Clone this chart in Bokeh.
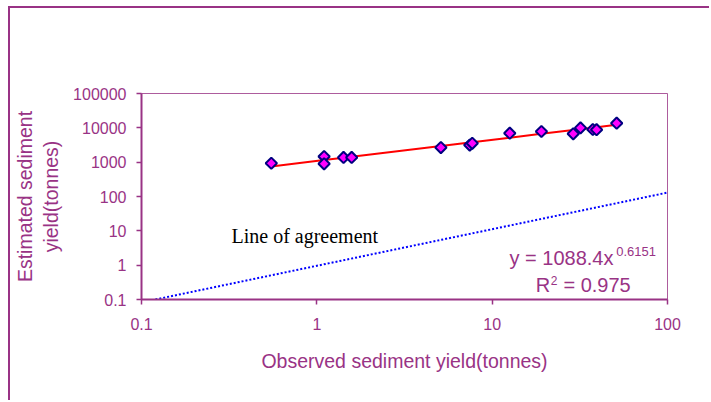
import math
from bokeh.plotting import figure
from bokeh.models import FixedTicker, CustomJSTickFormatter, Label, ColumnDataSource
from bokeh.embed import file_html
from bokeh.resources import INLINE

# ---- data ----
observed = [0.55, 1.1, 1.1, 1.42, 1.58, 5.1, 7.45, 7.7, 12.6, 19.1, 29.0, 31.9, 37.5, 39.4, 51.3]
estimated = [930, 1460, 895, 1370, 1370, 2670, 3150, 3550, 6980, 7820, 6700, 10000, 8940, 8830, 13650]

trend_coef = 1088.4
trend_exp = 0.6151
r_squared = 0.975

agree_x = [0.12, 100]
agree_y = [0.1, 130]

x_ticks = [0.1, 1, 10, 100]
y_ticks = [0.1, 1, 10, 100, 1000, 10000, 100000]

PURPLE = "#993385"
FONT = "Liberation Sans"

p = figure(width=701, height=394, x_axis_type="log", y_axis_type="log",
           x_range=(0.1, 100), y_range=(0.1, 100000),
           output_backend="svg", toolbar_location=None,
           min_border_left=131, min_border_top=85, min_border_right=44, min_border_bottom=103)
p.styles = {"margin-left": "8px", "margin-top": "6px",
            "border-top": "2px solid " + PURPLE, "border-left": "2px solid " + PURPLE}

p.xgrid.visible = False
p.ygrid.visible = False
p.outline_line_color = PURPLE
p.outline_line_width = 1
p.outline_line_alpha = 0.8
p.background_fill_color = "white"
p.border_fill_color = "white"

fmt = CustomJSTickFormatter(code="return tick.toString();")
for ax, ticks in ((p.xaxis, x_ticks), (p.yaxis, y_ticks)):
    ax.ticker = FixedTicker(ticks=ticks, minor_ticks=[])
    ax.formatter = fmt
    ax.axis_line_color = PURPLE
    ax.axis_line_width = 2
    ax.major_tick_line_color = PURPLE
    ax.major_tick_line_width = 1.5
    ax.major_tick_out = 5
    ax.major_tick_in = 0
    ax.minor_tick_line_color = None
    ax.major_label_text_color = PURPLE
    ax.major_label_text_font = FONT
    ax.major_label_text_font_size = "16px"
    ax.axis_label_text_color = PURPLE
    ax.axis_label_text_font = FONT
    ax.axis_label_text_font_size = "19.5px"
    ax.axis_label_text_font_style = "normal"

p.xaxis.major_label_standoff = 13
p.xaxis.axis_label = "Observed sediment yield(tonnes)"
p.xaxis.axis_label_standoff = 17
p.yaxis.major_label_standoff = 10
p.yaxis.axis_label = "Estimated sediment\nyield(tonnes)"
p.yaxis.axis_label_standoff = 8

# line of agreement
p.line(agree_x, agree_y, line_color="#0000FF", line_width=2, line_dash="2 2")

# power trendline evaluated from the displayed equation
xs = sorted(observed)
trend_y = [trend_coef * v ** trend_exp for v in xs]
p.line(xs, trend_y, line_color="#FF0000", line_width=2)

src = ColumnDataSource(dict(x=observed, y=estimated))
p.scatter("x", "y", source=src, marker="square", angle=math.pi / 4, size=8,
          fill_color="#FF00FF", line_color="#000080", line_width=2)

p.add_layout(Label(x=0.326, y=6.84, text="Line of agreement", text_font="Liberation Serif",
                   text_font_size="20px", text_color="black", text_baseline="alphabetic"))
p.add_layout(Label(x=12.56, y=1.672, text="y = %.1fx" % trend_coef, text_font=FONT,
                   text_font_size="20px", text_color=PURPLE, text_baseline="alphabetic"))
p.add_layout(Label(x=51.0, y=2.50, text="%.4f" % trend_exp, text_font=FONT,
                   text_font_size="13px", text_color=PURPLE, text_baseline="alphabetic"))
p.add_layout(Label(x=17.7, y=0.256, text="R", text_font=FONT,
                   text_font_size="20px", text_color=PURPLE, text_baseline="alphabetic"))
p.add_layout(Label(x=21.6, y=0.357, text="2", text_font=FONT,
                   text_font_size="12px", text_color=PURPLE, text_baseline="alphabetic"))
p.add_layout(Label(x=25.5, y=0.256, text="= %.3f" % r_squared, text_font=FONT,
                   text_font_size="20px", text_color=PURPLE, text_baseline="alphabetic"))

open("out.html", "w").write(file_html(p, INLINE))
